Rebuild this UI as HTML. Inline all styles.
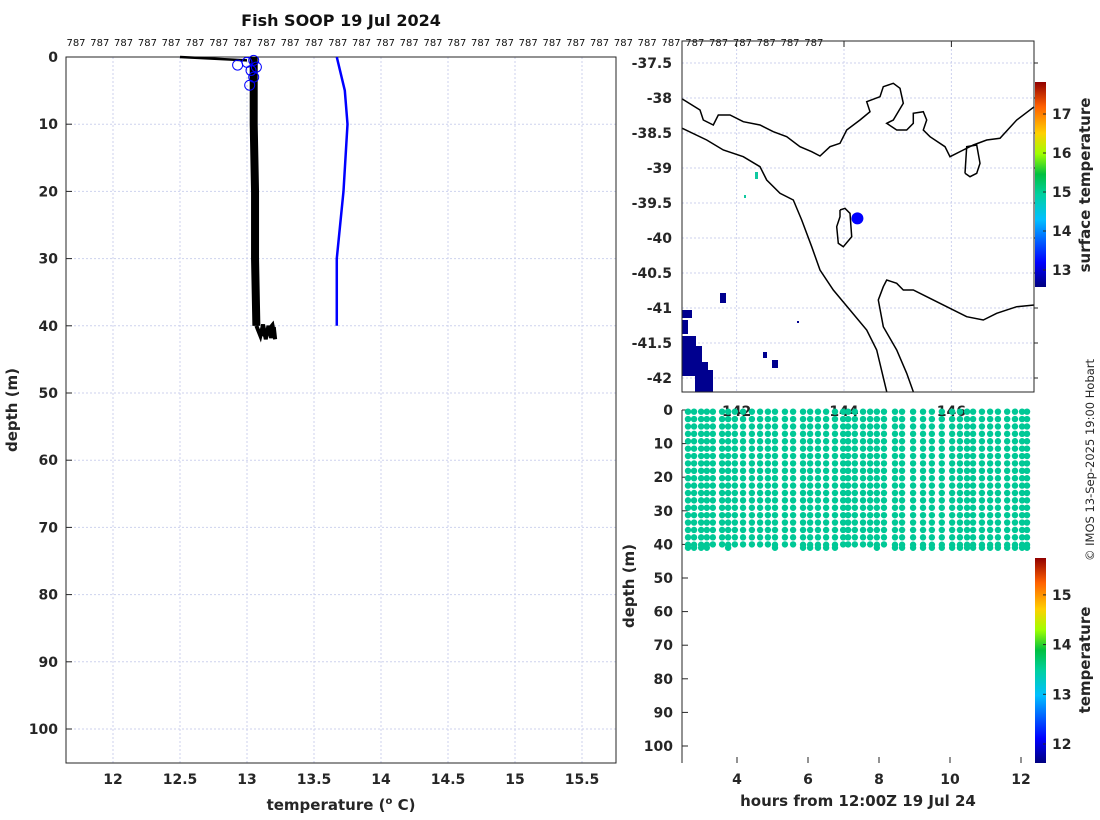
<!DOCTYPE html>
<html><head><meta charset="utf-8"><style>
body{margin:0;background:#fff;}
svg{display:block;font-family:"DejaVu Sans","Liberation Sans",sans-serif;}
.tk{font-size:14px;font-weight:bold;fill:#262626;}
.lab{font-size:15px;font-weight:bold;fill:#262626;}
.grid{stroke:#cdd2ee;stroke-width:1;stroke-dasharray:2,2;}
</style></head><body>
<svg id="c" width="1100" height="820" xmlns="http://www.w3.org/2000/svg">
<defs>
<linearGradient id="jet" x1="0" y1="1" x2="0" y2="0">
<stop offset="0" stop-color="#00007f"/><stop offset="0.12" stop-color="#0000ff"/><stop offset="0.33" stop-color="#00c0ff"/><stop offset="0.45" stop-color="#00d0a0"/><stop offset="0.55" stop-color="#00c040"/><stop offset="0.65" stop-color="#a0ff00"/><stop offset="0.75" stop-color="#ffd000"/><stop offset="0.88" stop-color="#ff6000"/><stop offset="1" stop-color="#900000"/>
</linearGradient>
</defs>
<text x="341" y="26" text-anchor="middle" font-size="16" font-weight="bold" fill="#111">Fish SOOP 19 Jul 2024</text>
<g id="tops"></g>
<g id="left"></g>
<g id="map"></g>
<g id="scat"></g>
<text transform="translate(1094,460) rotate(-90)" text-anchor="middle" font-size="11.5" fill="#262626">© IMOS 13-Sep-2025 19:00 Hobart</text>
</svg>
<script>
// ---- left profile data ----
const leftXTicks=[12,12.5,13,13.5,14,14.5,15,15.5];
const leftYTicks=[0,10,20,30,40,50,60,70,80,90,100];
const blackDepth=[0,2,5,10,20,30,40];
const blackTemp=[13.05,13.05,13.05,13.05,13.06,13.06,13.07];
const surfDepth=[0,0.5];
const surfTemp=[12.5,13.0];
const squigDepth=[40,41.5,39.8,42,40,41.8,40.2,42,39.9,41.6];
const squigTemp=[13.07,13.1,13.12,13.14,13.16,13.18,13.2,13.21,13.19,13.12];
const blueDepth=[0,5,10,20,30,40];
const blueTemp=[13.67,13.73,13.75,13.72,13.67,13.67];
const circDepth=[1.2,0.8,2,3,4.2,1.5,0.5];
const circTemp=[12.93,13.0,13.03,13.05,13.02,13.07,13.05];
// ---- map data ----
const latTicks=[-37.5,-38,-38.5,-39,-39.5,-40,-40.5,-41,-41.5,-42];
const lonTicks=[142,144,146];
const shipLon=[144.25];const shipLat=[-39.72];
const sstTicks=[13,14,15,16,17];
// ---- scatter data ----
const profHours=[2.62,2.79,2.99,3.15,3.32,3.58,3.75,3.94,4.17,4.42,4.65,4.87,5.07,5.35,5.58,5.86,6.06,6.28,6.51,6.76,6.99,7.13,7.32,7.55,7.75,7.94,8.14,8.45,8.65,8.96,9.24,9.49,9.77,10.06,10.28,10.48,10.65,10.9,11.13,11.35,11.61,11.83,12.03,12.17];
const profMaxDepth=[41,41,41,41,40,40,41,40,40,40,40,40,41,40,40,41,41,41,41,41,40,40,40,40,40,41,40,41,41,41,41,41,41,41,41,41,41,41,41,41,41,41,41,41];
const hourTicks=[4,6,8,10,12];
const depthTicks=[0,10,20,30,40,50,60,70,80,90,100];
const tempTicks=[12,13,14,15];

const NS="http://www.w3.org/2000/svg";
function mk(p,t,a){const e=document.createElementNS(NS,t);for(const k in a)e.setAttribute(k,a[k]);p.appendChild(e);return e;}
function txt(p,x,y,s,cls,anchor){const e=mk(p,'text',{x:x,y:y,'class':cls,'text-anchor':anchor||'middle'});e.textContent=s;return e;}

const tops=document.getElementById('tops');
for(let i=0;i<32;i++){const t=txt(tops,76+i*23.8,46,'787','', 'middle');t.setAttribute('font-size','10');t.setAttribute('fill','#111');

}

// left panel
const L=document.getElementById('left');
const lx=v=>113+(v-12)*134, ly=d=>57+d*6.72;
leftXTicks.forEach(v=>{mk(L,'line',{x1:lx(v),x2:lx(v),y1:57,y2:763,'class':'grid'});const t=txt(L,lx(v),784,String(v),'tk');

});
leftYTicks.forEach(v=>{mk(L,'line',{x1:66,x2:616,y1:ly(v),y2:ly(v),'class':'grid'});const t=txt(L,58,ly(v)+5,String(v),'tk','end');


mk(L,'line',{x1:66,x2:72,y1:ly(v),y2:ly(v),stroke:'#262626'});});
const lf=mk(L,'rect',{x:66,y:57,width:550,height:706,fill:'none',stroke:'#262626','stroke-width':1});


const xl=mk(L,'text',{x:341,y:810,'class':'lab','text-anchor':'middle'});xl.innerHTML='temperature (<tspan font-size="10" dy="-6">o</tspan><tspan dy="6"> C)</tspan>';


const yl=txt(L,0,0,'depth (m)','lab');yl.setAttribute('transform','translate(17,410) rotate(-90)');


const bl=mk(L,'polyline',{points:blueDepth.map((d,i)=>lx(blueTemp[i])+','+ly(d)).join(' '),fill:'none',stroke:'#0000ff','stroke-width':2.5});


const sl=mk(L,'polyline',{points:surfDepth.map((d,i)=>lx(surfTemp[i])+','+ly(d)).join(' '),fill:'none',stroke:'#000','stroke-width':2.5});


const bk=mk(L,'polyline',{points:blackDepth.map((d,i)=>lx(blackTemp[i])+','+ly(d)).join(' '),fill:'none',stroke:'#000','stroke-width':8});


const sq=mk(L,'polyline',{points:squigDepth.map((d,i)=>lx(squigTemp[i])+','+ly(d)).join(' '),fill:'none',stroke:'#000','stroke-width':4});


circDepth.forEach((d,i)=>{const c=mk(L,'circle',{cx:lx(circTemp[i]),cy:ly(d),r:5,fill:'none',stroke:'#0000ff','stroke-width':1});

});

// map panel
const M=document.getElementById('map');
const mx=lon=>844+(lon-144)*53.7, my=lat=>63+(-37.5-lat)*70;
lonTicks.forEach(v=>{mk(M,'line',{x1:mx(v),x2:mx(v),y1:41,y2:392,'class':'grid'});mk(M,'line',{x1:mx(v),x2:mx(v),y1:41,y2:47,stroke:'#262626'});});
latTicks.forEach(v=>{mk(M,'line',{x1:682,x2:1034,y1:my(v),y2:my(v),'class':'grid'});mk(M,'line',{x1:1034,x2:1038,y1:my(v),y2:my(v),stroke:'#262626'});
const t=txt(M,672,my(v)+5,String(v),'tk','end');

});
function zp(arr){return arr.map(p=>(p[0]/3+620).toFixed(1)+','+(p[1]/3+30).toFixed(1)).join(' ');}
const coasts=[
[[187,207],[240,240],[250,270],[280,285],[295,255],[330,255],[370,275],[420,285],[460,305],[500,320],[540,350],[575,365],[600,378],[630,350],[660,340],[680,300],[720,270],[750,245],[740,215],[780,200],[790,170],[820,160],[840,175],[850,220],[820,270],[800,280],[830,300],[860,300],[880,280],[880,250],[910,245],[920,270],[910,300],[930,320],[975,350],[990,380],[1030,360],[1060,345],[1100,330],[1140,325],[1190,270],[1243,230]],
[[187,295],[260,330],[310,360],[370,380],[420,410],[440,450],[480,490],[520,510],[545,570],[575,650],[600,720],[640,780],[690,840],[740,900],[770,960],[800,1085]],
[[1243,825],[1190,830],[1130,850],[1090,870],[1040,860],[980,830],[920,800],[880,780],[850,780],[830,760],[800,750],[790,770],[775,810],[790,890],[830,960],[860,1030],[880,1085]],
[[660,540],[675,535],[690,550],[695,620],[670,650],[655,640],[650,590],[660,560],[660,540]],
[[1035,430],[1040,350],[1070,345],[1080,400],[1070,430],[1050,440],[1035,430]]];
coasts.forEach(c=>{const p=mk(M,'polyline',{points:zp(c),fill:'none',stroke:'#000','stroke-width':1.5});

});
const cold=[[682,310,10,8],[682,320,6,14],[682,336,14,10],[682,346,20,16],[682,362,26,14],[695,370,18,22],[720,293,6,10],[763,352,4,6],[772,360,6,8],[797,321,2,2]];
cold.forEach(r=>{const e=mk(M,'rect',{x:r[0],y:r[1],width:r[2],height:r[3],fill:'#00008f'});

});
mk(M,'rect',{x:755,y:172,width:3,height:7,fill:'#10c8a0'});mk(M,'rect',{x:744,y:195,width:2,height:3,fill:'#10c8a0'});
const ship=mk(M,'circle',{cx:mx(shipLon[0]),cy:my(shipLat[0]),r:6,fill:'#0000ff'});


const mf=mk(M,'rect',{x:682,y:41,width:352,height:351,fill:'none',stroke:'#262626'});


const cb1=mk(M,'rect',{x:1035,y:82,width:11,height:205,fill:'url(#jet)'});


const cy1=v=>270-(v-13)*39;
sstTicks.forEach(v=>{mk(M,'line',{x1:1043,x2:1046,y1:cy1(v),y2:cy1(v),stroke:'#262626'});const t=txt(M,1052,cy1(v)+5,String(v),'tk','start');

});
const ct1=txt(M,0,0,'surface temperature','lab');ct1.setAttribute('transform','translate(1090,185) rotate(-90)');ct1.setAttribute('font-size','14');



// scatter panel
const S=document.getElementById('scat');
const sx=h=>737+(h-4)*35.5, sy=d=>410+d*3.36;
lonTicks.forEach(v=>{const t=txt(S,mx(v),416,String(v),'tk');

});
hourTicks.forEach(v=>{mk(S,'line',{x1:sx(v),x2:sx(v),y1:757,y2:763,stroke:'#262626'});const t=txt(S,sx(v),784,String(v),'tk');

});
depthTicks.forEach(v=>{mk(S,'line',{x1:682,x2:688,y1:sy(v),y2:sy(v),stroke:'#262626'});const t=txt(S,673,sy(v)+5,String(v),'tk','end');

});
mk(S,'line',{x1:682,x2:682,y1:410,y2:763,stroke:'#262626'});
profHours.forEach((h,i)=>{for(let d=0.5;d<=profMaxDepth[i];d+=2.2){const c=mk(S,'circle',{cx:sx(h),cy:sy(d),r:3.2,fill:'#00c896'});

}
const c=mk(S,'circle',{cx:sx(h),cy:sy(profMaxDepth[i]),r:3.2,fill:'#00c896'});

});
const xl2=txt(S,858,806,'hours from 12:00Z 19 Jul 24','lab');


const yl2=txt(S,0,0,'depth (m)','lab');yl2.setAttribute('transform','translate(634,586) rotate(-90)');


const cb2=mk(S,'rect',{x:1035,y:558,width:11,height:205,fill:'url(#jet)'});


const cy2=v=>744-(v-12)*49.7;
tempTicks.forEach(v=>{mk(S,'line',{x1:1043,x2:1046,y1:cy2(v),y2:cy2(v),stroke:'#262626'});const t=txt(S,1052,cy2(v)+5,String(v),'tk','start');

});
const ct2=txt(S,0,0,'temperature','lab');ct2.setAttribute('transform','translate(1090,660) rotate(-90)');ct2.setAttribute('font-size','14');


</script>
</body></html>
